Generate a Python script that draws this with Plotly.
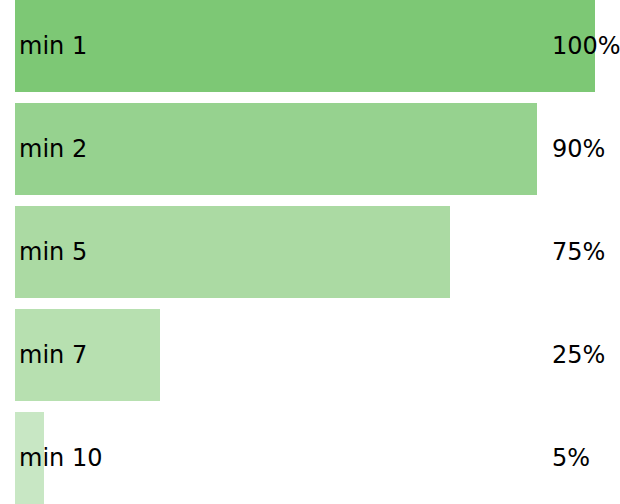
import plotly.graph_objects as go

categories = ["min 1", "min 2", "min 5", "min 7", "min 10"]
values = [100, 90, 75, 25, 5]
labels = ["100%", "90%", "75%", "25%", "5%"]
colors = ["rgb(125,200,117)", "rgb(150,210,143)", "rgb(171,218,163)",
          "rgb(183,224,176)", "rgb(200,231,196)"]

FONT = "DejaVu Sans, sans-serif"

fig = go.Figure(go.Bar(
    x=values, y=categories, orientation="h",
    marker=dict(color=colors, line=dict(width=0)),
    hoverinfo="skip",
))

annotations = []
for c, lab in zip(categories, labels):
    annotations.append(dict(x=0, y=c, xref="x", yref="y", text=c, showarrow=False,
                            xanchor="left", xshift=2, font=dict(size=24, color="black", family=FONT)))
    annotations.append(dict(x=0.922, y=c, xref="paper", yref="y", text=lab, showarrow=False,
                            xanchor="left", font=dict(size=24, color="black", family=FONT)))

w = 0.893
fig.update_layout(
    width=620, height=504,
    margin=dict(l=15, r=25, t=0, b=0),
    paper_bgcolor="white", plot_bgcolor="white",
    bargap=1 - w,
    showlegend=False,
    xaxis=dict(range=[0, 100], visible=False, fixedrange=True),
    yaxis=dict(range=[4 + w / 2, -w / 2], visible=False, fixedrange=True,
               categoryorder="array", categoryarray=categories),
    annotations=annotations,
)

fig.write_html("out.html", config={"displayModeBar": False},
               post_script="document.body.style.margin='0';document.body.style.overflow='hidden';")
